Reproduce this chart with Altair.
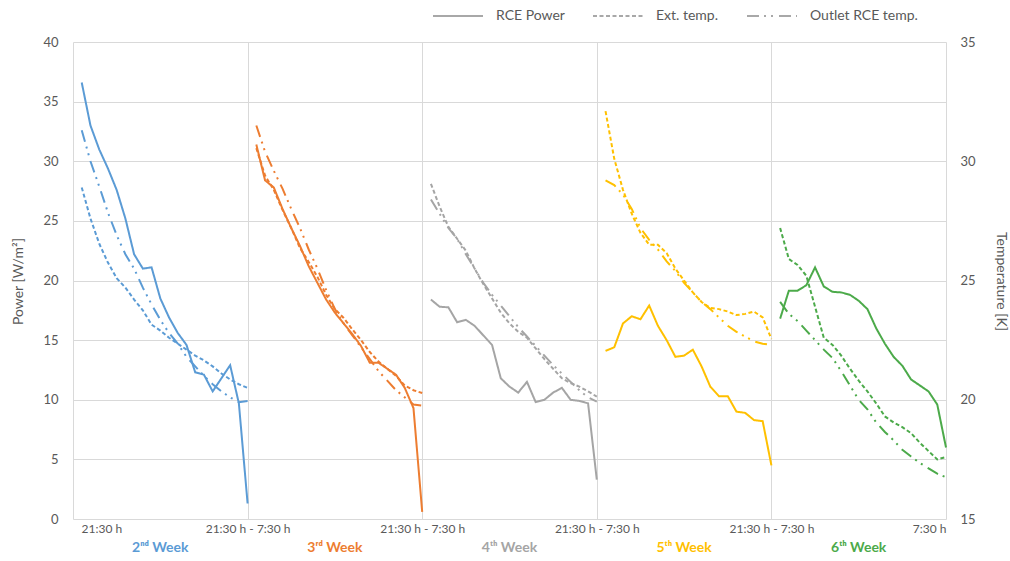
import altair as alt
import pandas as pd

FONT = "Lato"
TEXT_GREY = "#595959"
GRID_GREY = "#d9d9d9"

# Sampling times, hours after 21:30 (one reading every half hour until 7:30)
hours = [0.5, 1.0, 1.5, 2.0, 2.5, 3.0, 3.5, 4.0, 4.5, 5.0,
         5.5, 6.0, 6.5, 7.0, 7.5, 8.0, 8.5, 9.0, 9.5, 10.0]

weeks = ["2nd Week", "3rd Week", "4th Week", "5th Week", "6th Week"]
week_labels = ["2ⁿᵈ Week", "3ʳᵈ Week", "4ᵗʰ Week", "5ᵗʰ Week", "6ᵗʰ Week"]
week_colors = ["#5B9BD5", "#ED7D31", "#A5A5A5", "#FFC000", "#4CAA4A"]

series_names = ["RCE Power", "Ext. temp.", "Outlet RCE temp."]
x_tick_labels = ["21:30 h", "21:30 h - 7:30 h", "21:30 h - 7:30 h",
                 "21:30 h - 7:30 h", "21:30 h - 7:30 h", "7:30 h"]

# RCE power [W/m2]
power_w2 = [36.6, 33.0, 31.0, 29.4, 27.6, 25.2, 22.2, 21.0, 21.1, 18.5,
            16.9, 15.6, 14.6, 12.3, 12.1, 10.7, 11.8, 12.9, 9.7, 1.3]
power_w3 = [31.4, 28.4, 27.8, 26.0, 24.4, 22.9, 21.2, 19.8, 18.4, 17.3,
            16.4, 15.5, 14.5, 13.1, 13.1, 12.6, 12.1, 11.0, 9.3, 0.6]
power_w4 = [18.4, 17.8, 17.75, 16.5, 16.7, 16.2, 15.4, 14.6, 11.8, 11.1,
            10.6, 11.5, 9.8, 10.0, 10.6, 11.0, 10.0, 9.9, 9.7, 3.3]
power_w5 = [14.1, 14.4, 16.4, 17.0, 16.75, 17.9, 16.2, 15.0, 13.6, 13.7,
            14.2, 12.8, 11.1, 10.3, 10.3, 9.0, 8.9, 8.3, 8.2, 4.5]
power_w6 = [16.8, 19.15, 19.15, 19.6, 21.1, 19.5, 19.05, 19.0, 18.8, 18.3,
            17.6, 16.0, 14.7, 13.6, 12.85, 11.7, 11.2, 10.7, 9.6, 6.0]

# External temperature
ext_w2 = [28.9, 27.6, 26.55, 25.75, 25.1, 24.7, 24.2, 23.75, 23.15, 22.9,
          22.6, 22.35, 22.1, 21.85, 21.65, 21.4, 21.1, 20.85, 20.65, 20.5]
ext_w3 = [30.55, 29.4, 28.8, 27.96, 27.2, 26.36, 25.78, 25.15, 24.39, 23.8,
          23.43, 22.95, 22.5, 22.0, 21.6, 21.3, 21.0, 20.6, 20.4, 20.28]
ext_w4 = [29.05, 28.1, 27.25, 26.75, 26.25, 25.5, 24.85, 24.25, 23.65, 23.2,
          22.85, 22.6, 22.15, 21.7, 21.3, 20.9, 20.7, 20.55, 20.35, 20.13]
ext_w5 = [32.1, 30.1, 28.8, 27.8, 27.0, 26.5, 26.5, 26.15, 25.5, 25.0,
          24.5, 24.1, 23.85, 23.8, 23.7, 23.55, 23.6, 23.7, 23.45, 22.55]
ext_w6 = [27.2, 25.9, 25.65, 25.2, 23.9, 22.6, 22.3, 21.85, 21.3, 20.8,
          20.35, 19.85, 19.3, 19.05, 18.85, 18.6, 18.2, 17.85, 17.5, 17.6]

# Outlet RCE temperature
out_w2 = [31.3, 30.0, 28.95, 27.85, 26.9, 26.1, 25.5, 24.7, 24.0, 23.35,
          22.8, 22.35, 21.8, 21.4, 21.0, 20.65, 20.35, 20.1, 19.9, 19.95]
out_w3 = [31.5, 30.4, 29.6, 28.85, 28.0, 27.2, 26.3, 25.5, 24.6, 23.8,
          23.2, 22.7, 22.2, 21.7, 21.2, 20.8, 20.4, 20.1, 19.8, 19.75]
out_w4 = [28.4, 27.8, 27.2, 26.75, 26.1, 25.5, 24.9, 24.4, 23.95, 23.5,
          23.05, 22.65, 22.25, 21.85, 21.45, 21.1, 20.75, 20.4, 20.1, 19.92]
out_w5 = [29.2, 29.0, 28.6, 28.0, 27.2, 26.7, 26.3, 25.8, 25.4, 24.9,
          24.5, 24.1, 23.8, 23.45, 23.1, 22.85, 22.65, 22.45, 22.35, 22.3]
out_w6 = [24.1, 23.6, 23.3, 22.9, 22.5, 22.1, 21.75, 21.2, 20.6, 20.0,
          19.6, 19.05, 18.65, 18.3, 17.9, 17.62, 17.35, 17.12, 16.9, 16.75]

power = [power_w2, power_w3, power_w4, power_w5, power_w6]
ext = [ext_w2, ext_w3, ext_w4, ext_w5, ext_w6]
outlet = [out_w2, out_w3, out_w4, out_w5, out_w6]

NIGHT = 10  # hours from 21:30 to 7:30; each week occupies one night on the x axis

rows = []
for i, wk in enumerate(weeks):
    for name, values in zip(series_names, [power[i], ext[i], outlet[i]]):
        for h, v in zip(hours, values):
            rows.append({"week": wk, "series": name, "x": i * NIGHT + h, "value": v})
df = pd.DataFrame(rows)

labels_df = pd.DataFrame({
    "week": weeks,
    "label": week_labels,
    "x": [i * NIGHT + NIGHT / 2 for i in range(len(weeks))],
})

tick_values = [i * NIGHT for i in range(len(weeks) + 1)]
label_expr = "[" + ", ".join("'" + t + "'" for t in x_tick_labels) + "][round(datum.value / %d)]" % NIGHT

x_enc = alt.X(
    "x:Q",
    scale=alt.Scale(domain=[0, len(weeks) * NIGHT], nice=False, zero=False),
    axis=alt.Axis(
        values=tick_values,
        labelExpr=label_expr,
        title=None,
        grid=True,
        gridColor=GRID_GREY,
        domain=False,
        ticks=False,
        labelPadding=4,
        labelFontSize=12,
        labelOffset={"condition": {"test": "datum.value == 0", "value": 8}, "value": 0},
        labelOverlap=False,
    ),
)

color_enc = alt.Color(
    "week:N",
    scale=alt.Scale(domain=weeks, range=week_colors),
    legend=None,
)

dash_enc = alt.StrokeDash(
    "series:N",
    scale=alt.Scale(domain=series_names, range=[[1, 0], [4, 2.5], [12, 5, 2, 5, 2, 6]]),
    legend=alt.Legend(
        title=None,
        orient="none",
        direction="horizontal",
        legendX=359,
        legendY=-52,
        symbolType="stroke",
        symbolSize=2500,
        symbolStrokeWidth=1.6,
        symbolStrokeColor="#8c8c8c",
        labelFont=FONT,
        labelFontSize=14,
        labelColor=TEXT_GREY,
        labelOffset=12,
        columnPadding=24,
    ),
)

base = alt.Chart(df).encode(x=x_enc, color=color_enc, strokeDash=dash_enc, detail="week:N")

power_layer = base.transform_filter(alt.datum.series == "RCE Power").mark_line(strokeWidth=2).encode(
    y=alt.Y(
        "value:Q",
        scale=alt.Scale(domain=[0, 40], nice=False),
        axis=alt.Axis(
            values=[0, 5, 10, 15, 20, 25, 30, 35, 40],
            title="Power [W/m²]",
            titleX=-55,
            titleY=239,
            titleBaseline="middle",
            grid=True,
            gridColor=GRID_GREY,
            domain=False,
            ticks=False,
            labelPadding=15,
        ),
    )
)

temp_layer = base.transform_filter(alt.datum.series != "RCE Power").mark_line(strokeWidth=2).encode(
    y=alt.Y(
        "value:Q",
        scale=alt.Scale(domain=[15, 35], nice=False, zero=False),
        axis=alt.Axis(
            orient="right",
            values=[15, 20, 25, 30, 35],
            title="Temperature [K]",
            titleX=54,
            titleY=239,
            titleBaseline="middle",
            grid=False,
            domain=False,
            ticks=False,
            labelPadding=14,
        ),
    )
)

week_text = alt.Chart(labels_df).mark_text(
    font=FONT, fontSize=14, fontWeight="bold", baseline="middle", align="center"
).encode(
    x=x_enc,
    y=alt.value(506),
    text="label:N",
    color=color_enc,
)

chart = (
    alt.layer(power_layer, temp_layer, week_text)
    .resolve_scale(y="independent")
    .properties(
        width=873,
        height=477,
        padding={"left": 73, "top": 42, "right": 64, "bottom": 42},
        autosize=alt.AutoSizeParams(type="none"),
        background="white",
    )
    .configure_view(stroke=None)
    .configure_axis(
        labelFont=FONT,
        labelFontSize=13,
        labelColor=TEXT_GREY,
        titleFont=FONT,
        titleFontSize=14,
        titleFontWeight="normal",
        titleColor=TEXT_GREY,
    )
)

chart.save("out.html", embed_options={"renderer": "svg", "actions": False})
